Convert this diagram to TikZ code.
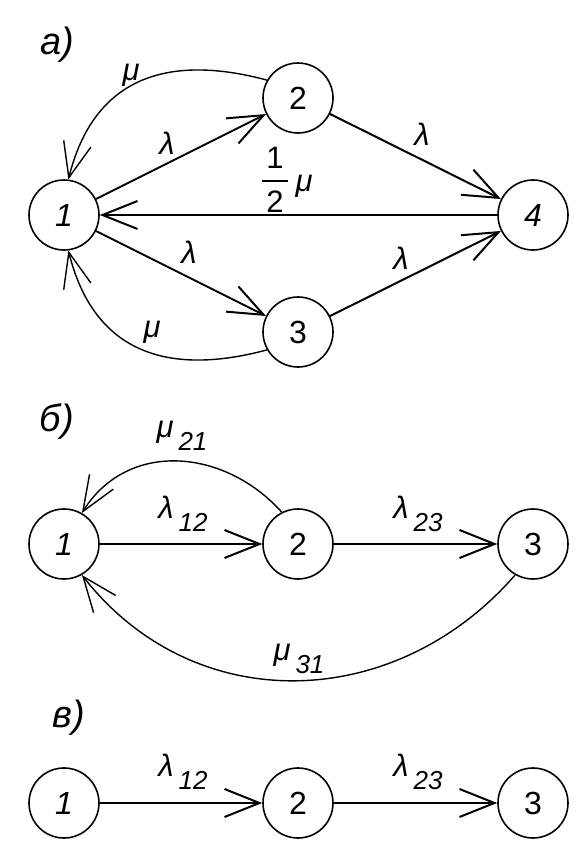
\documentclass[tikz,border=0pt]{standalone}
\usepackage{fontspec}
\setmainfont{Liberation Sans}
\usetikzlibrary{arrows.meta}

% rate with a lowered index
\newcommand{\gsub}[2]{#1\hspace{5pt}\raisebox{-13pt}{\fontsize{26}{30}\selectfont #2}}

\begin{document}
\begin{tikzpicture}[x=1pt, y=1pt, >={Straight Barb[length=35pt,width=28pt]},
    state/.style={circle, draw, line width=1.6pt, minimum size=70pt, inner sep=0pt, font=\fontsize{32}{38}\selectfont},
    edge/.style={->, line width=2pt},
    back/.style={->, line width=1.4pt},
    rate/.style={inner sep=0pt, font=\fontsize{31}{36}\selectfont\itshape},
    panel/.style={inner sep=0pt, font=\fontsize{38}{44}\selectfont\itshape}]
    \useasboundingbox (0,0) rectangle (585,-857);

    % a) four states
    \node[panel] (pa) at (57,-45) {а)};
    \node[state] (a1) at (64,-215) {\itshape 1};
    \node[state] (a2) at (298,-98) {2};
    \node[state] (a3) at (298,-332) {3};
    \node[state] (a4) at (533,-215) {\itshape 4};

    \draw[edge] (a1) -- (a2);
    \draw[edge] (a2) -- (a4);
    \draw[edge] (a1) -- (a3);
    \draw[edge] (a3) -- (a4);
    \draw[edge] (a4) -- (a1);
    \draw[back] (a2.150) to[out=165, in=76, looseness=1.2] (a1.83);
    \draw[back] (a3.210) to[out=195, in=-76, looseness=1.2] (a1.-83);

    \node[rate] (ra12) at (167,-143) {λ};
    \node[rate] (ra24) at (422,-134) {λ};
    \node[rate] (ra13) at (189,-252) {λ};
    \node[rate] (ra34) at (401,-258) {λ};
    \node[rate] (ra21) at (131,-75) {μ};
    \node[rate] (ra31) at (152,-332) {μ};
    \node[inner sep=0pt, font=\fontsize{31}{32}\selectfont, outer sep=0pt] (half) at (275,-184)
        {\setlength{\arrayrulewidth}{1.6pt}\begin{tabular}{@{\hspace{4pt}}c@{\hspace{4pt}}}1\\[2pt]\hline\rule{0pt}{30pt}2\end{tabular}};
    \node[rate] (ra41) at (304,-186) {μ};

    % б) three states, two returns
    \node[panel] (pb) at (57,-421) {б)};
    \node[state] (b1) at (64,-544) {\itshape 1};
    \node[state] (b2) at (298,-544) {2};
    \node[state] (b3) at (533,-544) {3};

    \draw[edge] (b1) -- (b2);
    \draw[edge] (b2) -- (b3);
    \draw[back] (b2.117) to[out=132, in=58, looseness=1.1] (b1.60);
    \draw[back] (b3.-120) to[out=229, in=-52, looseness=1.08] (b1.-60);

    \node[rate] (rb12) at (183,-514) {\gsub{λ}{12}};
    \node[rate] (rb23) at (418,-514) {\gsub{λ}{23}};
    \node[rate] (rb21) at (182,-436) {\gsub{μ}{21}};
    \node[rate] (rb31) at (299,-659) {\gsub{μ}{31}};

    % в) chain
    \node[panel] (pc) at (69,-718) {в)};
    \node[state] (c1) at (64,-803) {\itshape 1};
    \node[state] (c2) at (298,-803) {2};
    \node[state] (c3) at (533,-803) {3};

    \draw[edge] (c1) -- (c2);
    \draw[edge] (c2) -- (c3);

    \node[rate] (rc12) at (183,-772) {\gsub{λ}{12}};
    \node[rate] (rc23) at (418,-772) {\gsub{λ}{23}};
\end{tikzpicture}
\end{document}
